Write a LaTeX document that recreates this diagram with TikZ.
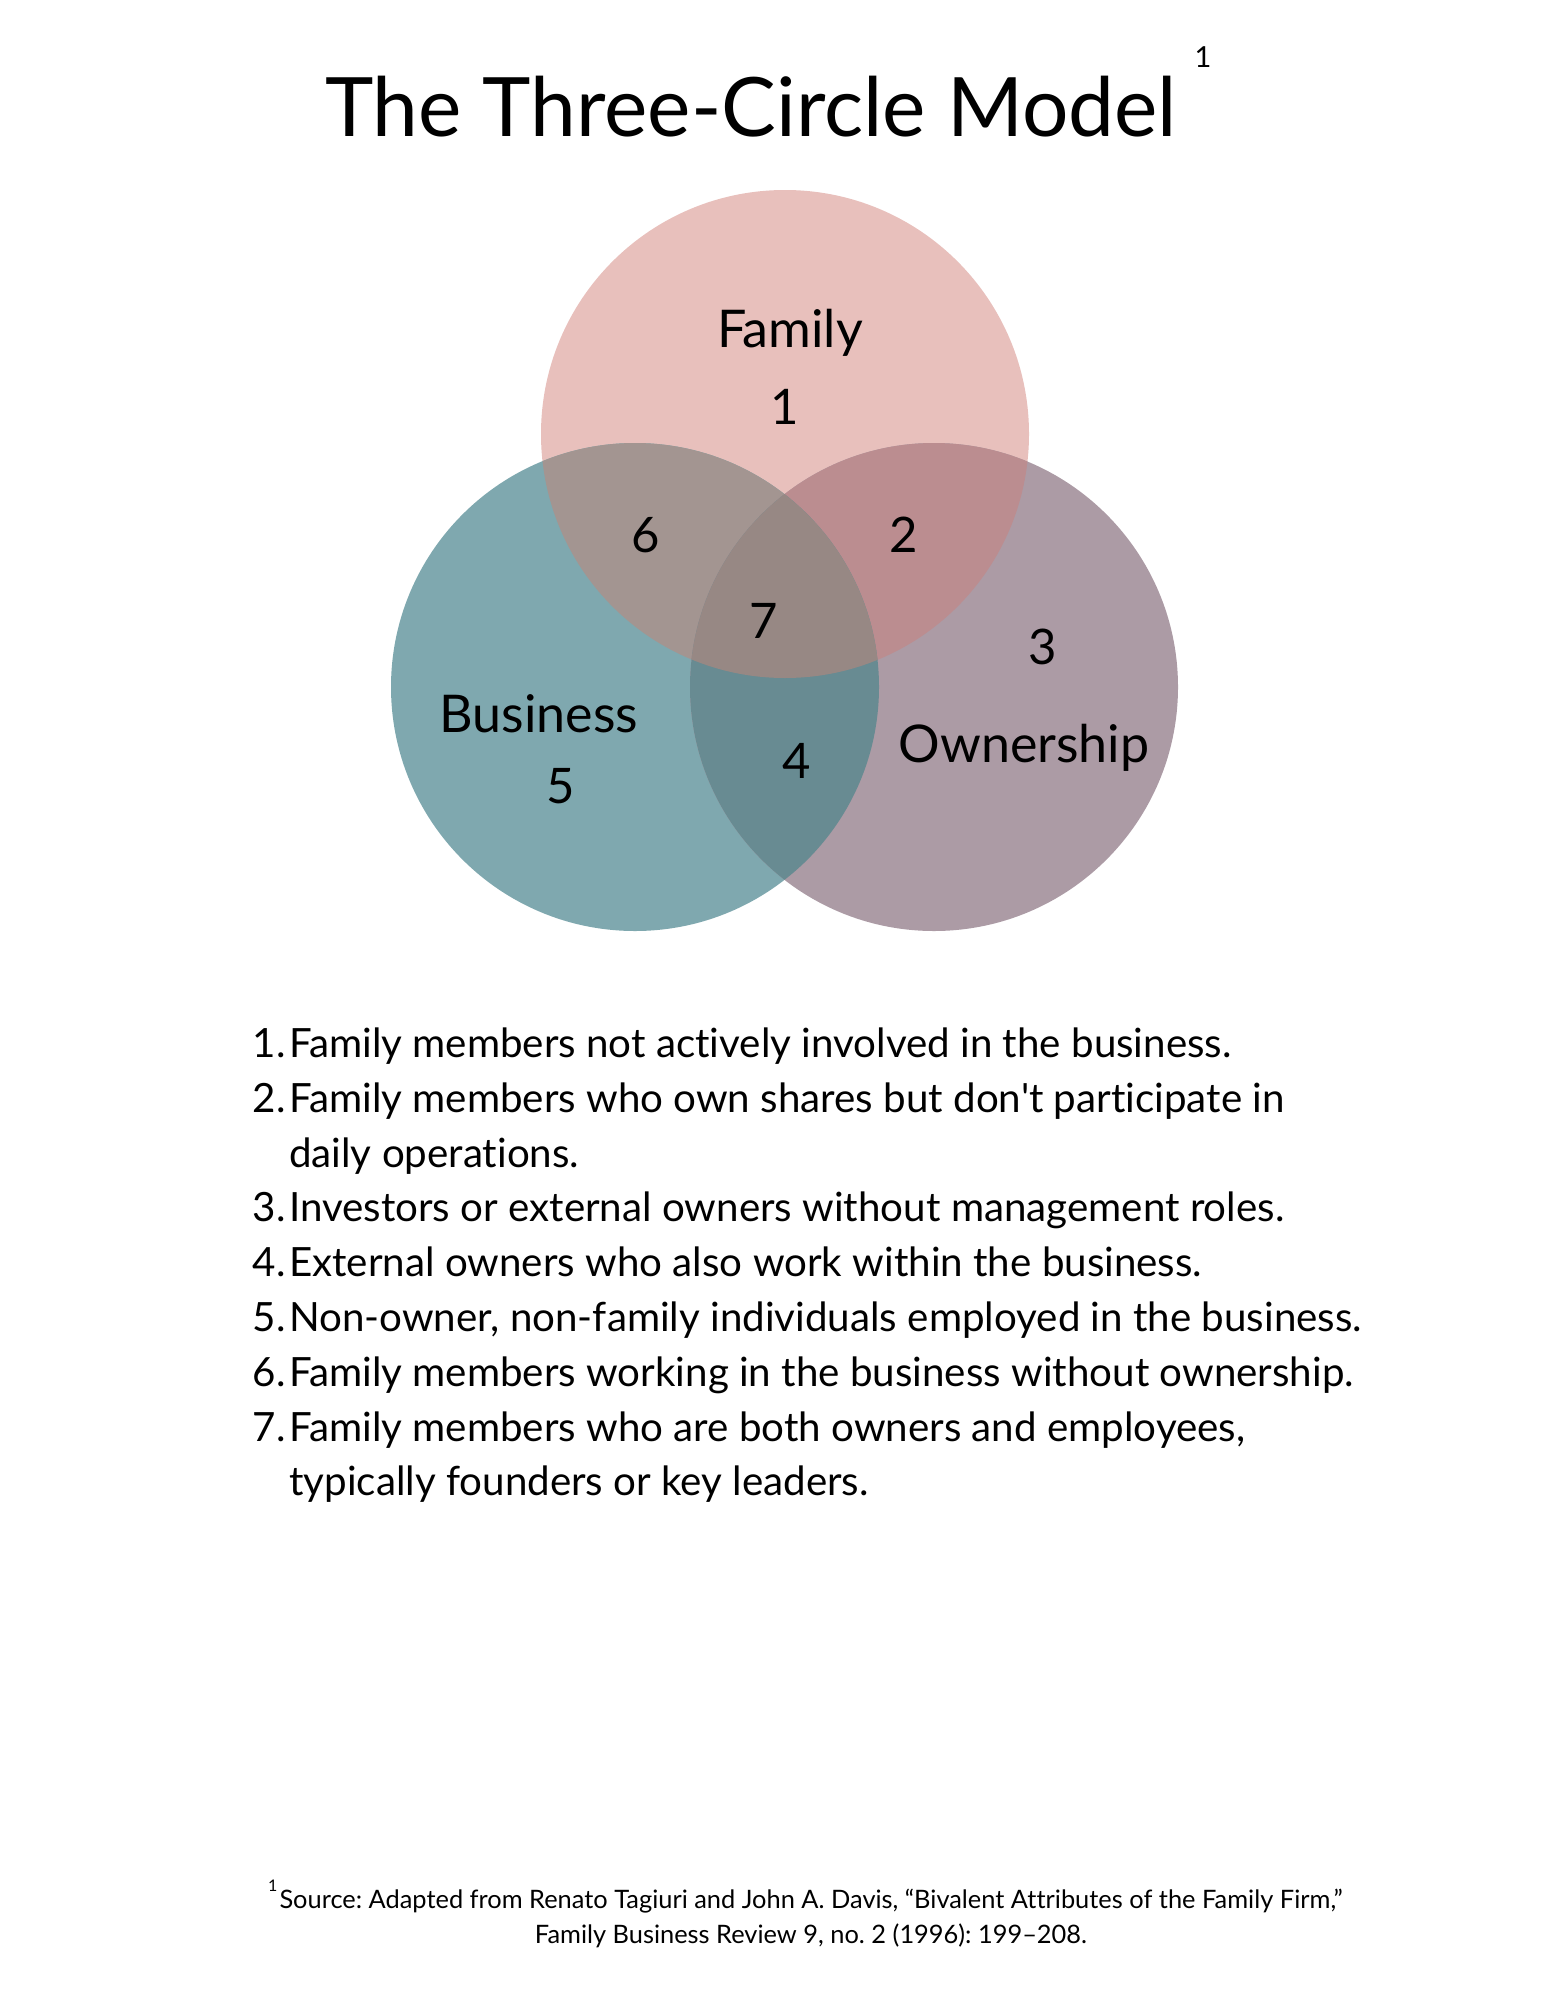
\documentclass[tikz,border=0pt]{standalone}
\usepackage{fontspec}
\setmainfont{Lato}[Ligatures={TeXOff,NoCommon}]
\frenchspacing
\definecolor{famc}{HTML}{E8C0BC}
\definecolor{busc}{HTML}{7FA8AF}
\definecolor{ownc}{HTML}{AC9BA5}
\definecolor{fbc}{HTML}{A39591}
\definecolor{foc}{HTML}{BB8D90}
\definecolor{boc}{HTML}{688B92}
\definecolor{allc}{HTML}{978884}
\tikzset{
  lbl/.style={inner sep=0pt, anchor=base, font=\fontsize{52}{58}\selectfont},
  dig/.style={inner sep=0pt, anchor=base, font=\fontsize{49}{58}\selectfont},
  num/.style={inner sep=0pt, anchor=base east, font=\fontsize{40.3}{54}\selectfont},
  item/.style={inner sep=0pt, anchor=base west, font=\fontsize{40.3}{54}\selectfont},
  foot/.style={inner sep=0pt, anchor=base, font=\fontsize{25.4}{30}\selectfont\frenchspacing},
}
\begin{document}
\begin{tikzpicture}[x=1pt,y=-1pt]
\useasboundingbox[fill=white] (0,0) rectangle (1545,1999);
\coordinate (F) at (785,434);
\coordinate (B) at (635,687);
\coordinate (O) at (934,687);
\def\R{244pt}
% base circles
\fill[famc] (F) circle[radius=\R];
\fill[busc] (B) circle[radius=\R];
\fill[ownc] (O) circle[radius=\R];
\begin{scope}\clip (F) circle[radius=\R]; \fill[fbc] (B) circle[radius=\R];\end{scope}
\begin{scope}\clip (F) circle[radius=\R]; \fill[foc] (O) circle[radius=\R];\end{scope}
\begin{scope}\clip (B) circle[radius=\R]; \fill[boc] (O) circle[radius=\R];\end{scope}
\begin{scope}\clip (F) circle[radius=\R]; \clip (B) circle[radius=\R]; \fill[allc] (O) circle[radius=\R];\end{scope}
% title
\node[inner sep=0pt, anchor=base, font=\fontsize{82}{90}\selectfont] (title) at (751,136) {The Three-Circle Model};
\node[inner sep=0pt, anchor=base, font=\fontsize{29}{30}\selectfont] (titlesup) at (1203,68) {1};
% venn labels
\node[lbl] (lfam) at (790,347) {Family};
\node[dig] (n1) at (785,424) {1};
\node[dig] (n6) at (646,552) {6};
\node[dig] (n2) at (904,552) {2};
\node[dig] (n7) at (764,638) {7};
\node[dig] (n3) at (1043,664) {3};
\node[lbl] (lbus) at (539,732) {Business};
\node[dig] (n5) at (561,803) {5};
\node[dig] (n4) at (797,778) {4};
\node[lbl] (lown) at (1024,762) {Ownership};
% list
\node[num] (i1n) at (286,1057) {1.};
\node[item] (i1) at (289,1057) {Family members not actively involved in the business.};
\node[num] (i2n) at (286,1112) {2.};
\node[item] (i2) at (289,1112) {Family members who own shares but don't participate in};
\node[item] (i2b) at (289,1167) {daily operations.};
\node[num] (i3n) at (286,1221) {3.};
\node[item] (i3) at (289,1221) {Investors or external owners without management roles.};
\node[num] (i4n) at (286,1276) {4.};
\node[item] (i4) at (289,1276) {External owners who also work within the business.};
\node[num] (i5n) at (286,1331) {5.};
\node[item] (i5) at (289,1331) {Non-owner, non-family individuals employed in the business.};
\node[num] (i6n) at (286,1386) {6.};
\node[item] (i6) at (289,1386) {Family members working in the business without ownership.};
\node[num] (i7n) at (286,1441) {7.};
\node[item] (i7) at (289,1441) {Family members who are both owners and employees,};
\node[item] (i7b) at (289,1495) {typically founders or key leaders.};
% footnote
\node[inner sep=0pt, anchor=base west, font=\fontsize{16}{18}\selectfont] (fsup) at (268,1891) {1};
\node[foot] (f1) at (811,1908) {Source: Adapted from Renato Tagiuri and John A. Davis, “Bivalent Attributes of the Family Firm,”};
\node[foot] (f2) at (811,1943) {Family Business Review 9, no. 2 (1996): 199–208.};
\end{tikzpicture}
\end{document}
